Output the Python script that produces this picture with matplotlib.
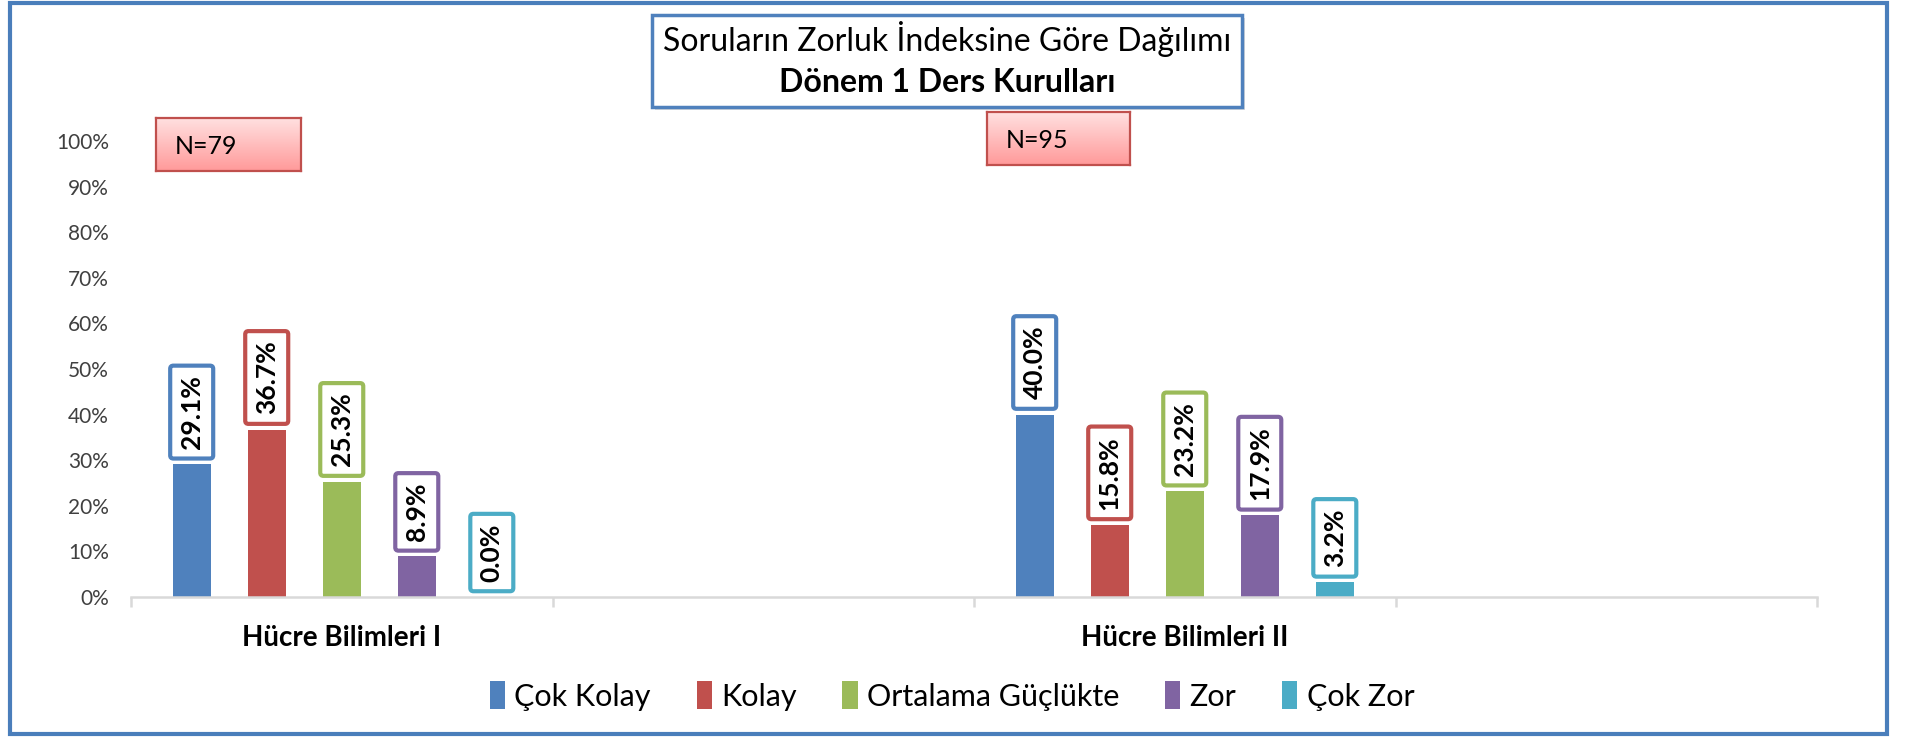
import numpy as np
import matplotlib.pyplot as plt
from matplotlib.patches import Rectangle
from matplotlib.colors import LinearSegmentedColormap

plt.rcParams['font.family'] = ['Lato', 'DejaVu Sans']

# data
categories = ["Hücre Bilimleri I", "", "Hücre Bilimleri II", ""]
series_names = ["Çok Kolay", "Kolay", "Ortalama Güçlükte", "Zor", "Çok Zor"]
cok_kolay = [29.1, np.nan, 40.0, np.nan]
kolay = [36.7, np.nan, 15.8, np.nan]
ortalama = [25.3, np.nan, 23.2, np.nan]
zor = [8.9, np.nan, 17.9, np.nan]
cok_zor = [0.0, np.nan, 3.2, np.nan]
n_labels = ["N=79", "N=95"]
colors = ["#4F81BD", "#C0504D", "#9BBB59", "#8064A2", "#4BACC6"]

W, H = 1905, 739
fig = plt.figure(figsize=(W / 100, H / 100), dpi=100)

# outer border
fig.patches.append(Rectangle((10 / W, 5 / H), 1877 / W, 731 / H, transform=fig.transFigure,
                             fill=False, ec="#4A7EBB", lw=3, zorder=0))

ax = fig.add_axes([131 / W, 142 / H, 1686 / W, 456 / H])

x = np.arange(len(categories))
offsets = (np.arange(5) - 2) * 0.178
width = 0.09
all_values = [cok_kolay, kolay, ortalama, zor, cok_zor]

for i, vals in enumerate(all_values):
    ax.bar(x + offsets[i], vals, width, color=colors[i], label=series_names[i], zorder=2)
    for xi, v in zip(x, vals):
        if np.isnan(v):
            continue
        ax.annotate(f"{v:.1f}%", (xi + offsets[i], v), xytext=(0, 11),
                    textcoords="offset points", rotation=90, ha="center", va="bottom",
                    fontsize=19, fontweight="bold", color="black",
                    bbox=dict(boxstyle="round,pad=0.36,rounding_size=0.12", fc="white",
                              ec=colors[i], lw=3))

ax.set_xlim(-0.5, 3.5)
ax.set_ylim(0, 100)
ax.set_yticks(np.arange(0, 101, 10))
ax.set_yticklabels([f"{t}%" for t in range(0, 101, 10)])
ax.tick_params(axis="y", length=0, pad=16, labelsize=15, labelcolor="#404040")

ax.set_xticks(x)
ax.set_xticklabels(categories, fontweight="bold", fontsize=20)
ax.set_xticks(np.arange(-0.5, 4, 1), minor=True)
ax.tick_params(axis="x", which="major", length=0, pad=20)
ax.tick_params(axis="x", which="minor", length=7, width=1.8, color="#D9D9D9")

for s in ["top", "right", "left"]:
    ax.spines[s].set_visible(False)
ax.spines["bottom"].set_color("#D9D9D9")
ax.spines["bottom"].set_linewidth(1.8)

# title box
tb = (652, 632, 590, 92)
fig.patches.append(Rectangle(((tb[0] + 3) / W, (tb[1] - 3) / H), tb[2] / W, tb[3] / H,
                             transform=fig.transFigure, fc="#BBBBBB", ec="none", alpha=0.5))
fig.patches.append(Rectangle((tb[0] / W, tb[1] / H), tb[2] / W, tb[3] / H,
                             transform=fig.transFigure, fc="white", ec="#4F81BD", lw=2.5))
fig.text(947 / W, 700 / H, "Soruların Zorluk İndeksine Göre Dağılımı", ha="center", va="center",
         fontsize=23, color="black")
fig.text(947 / W, 656 / H, "Dönem 1 Ders Kurulları", ha="center", va="center",
         fontsize=23, fontweight="bold", color="black")

# N boxes
nboxes = [(156, 568, 145, 53), (987, 574, 143, 53)]
grad = np.linspace(0, 1, 100).reshape(-1, 1)
pink = LinearSegmentedColormap.from_list("pink", ["#FFE0E0", "#FF9A9A"])
for (bx, by, bw, bh), lab in zip(nboxes, n_labels):
    for k, a in enumerate([0.25, 0.15, 0.08]):
        fig.patches.append(Rectangle(((bx + 1) / W, (by - 2 - k * 2) / H), bw / W, bh / H,
                                     transform=fig.transFigure, fc="#888888", ec="none",
                                     alpha=a, zorder=-1))
    nax = fig.add_axes([bx / W, by / H, bw / W, bh / H], zorder=5)
    nax.imshow(grad, cmap=pink, aspect="auto", extent=[0, 1, 0, 1])
    nax.set_xticks([])
    nax.set_yticks([])
    for s in nax.spines.values():
        s.set_color("#C0504D")
        s.set_linewidth(1.6)
    nax.text(0.13, 0.47, lab, ha="left", va="center", fontsize=18, color="black",
             transform=nax.transAxes)

# legend
fig.legend(*ax.get_legend_handles_labels(), loc="center", bbox_to_anchor=(952 / W, 43 / H),
           ncol=5, frameon=False, fontsize=22, handlelength=0.5, handleheight=1.0,
           handletextpad=0.3, columnspacing=1.5)

fig.savefig("out.png", dpi=100)
